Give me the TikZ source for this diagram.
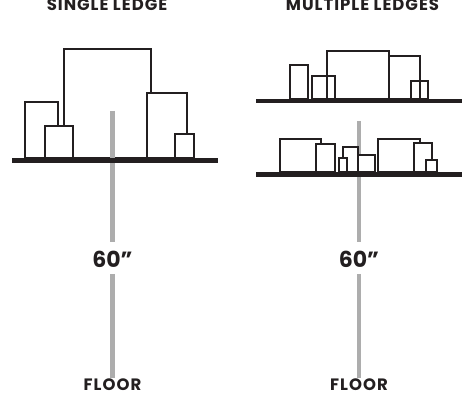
\documentclass[tikz,border=0pt]{standalone}
\usepackage{fontspec}
\setmainfont{Poppins}[LetterSpace=6]
\newfontfamily\numfont{Poppins}
\definecolor{ink}{HTML}{231F20}
\definecolor{pole}{HTML}{ADADAD}
\begin{document}
\begin{tikzpicture}[x=1pt,y=-1pt,
  boxw/.style={draw=ink,line width=1.6pt,fill=white},
  boxo/.style={draw=ink,line width=1.6pt},
  shelf/.style={fill=ink,draw=none},
  polebar/.style={draw=pole,line width=4.5pt},
  ttl/.style={font=\bfseries\fontsize{16.5}{17}\selectfont,text=ink,anchor=base,inner sep=0pt,text depth=0pt},
  num/.style={font=\numfont\bfseries\fontsize{22}{24}\selectfont,text=ink,inner sep=0pt}]
\useasboundingbox (0,0) rectangle (475,396);
% titles
\node[ttl] (t1) at (107,10.5) {SINGLE LEDGE};
\node[ttl] (t2) at (362.5,10.5) {MULTIPLE LEDGES};
% ---------- left: single ledge ----------
\coordinate (lp1) at (112.5,111);
\coordinate (lp2) at (112.5,242);
\coordinate (lp3) at (112.5,274);
\coordinate (lp4) at (112.5,378);
\draw[boxw] (64,49) rectangle (151,158);
\draw[boxw] (25,102) rectangle (58,158);
\draw[boxw] (147,93) rectangle (187,158);
\draw[boxw] (45,126) rectangle (73,158);
\draw[boxw] (175,134) rectangle (194,158);
\draw[polebar] (lp1) -- (lp2);
\draw[polebar] (lp3) -- (lp4);
\fill[shelf] (12,158) rectangle (218,163);
\node[num] (n1) at (112.5,259) {60”};
\node[ttl] (f1) at (112.5,391) {FLOOR};
% ---------- right: multiple ledges ----------
\coordinate (rp1) at (359,121);
\coordinate (rp2) at (359,242);
\coordinate (rp3) at (359,274);
\coordinate (rp4) at (359,378);
\draw[polebar] (rp1) -- (rp2);
\draw[polebar] (rp3) -- (rp4);
% upper shelf
\draw[boxo] (290,65) rectangle (308,99);
\draw[boxo] (312,76) rectangle (335,99);
\draw[boxo] (327,51) rectangle (389,99);
\draw[boxo] (389,56) rectangle (420,99);
\draw[boxo] (411,81) rectangle (428,99);
\fill[shelf] (256,99) rectangle (462,103.5);
% lower shelf
\draw[boxw] (280,139) rectangle (321,172);
\draw[boxw] (316,144) rectangle (335,172);
\draw[boxw] (343,147) rectangle (358,172);
\draw[boxw] (339,158) rectangle (347,172);
\draw[boxw] (358.5,155) rectangle (375,172);
\draw[boxw] (378,139) rectangle (420,172);
\draw[boxw] (414,143) rectangle (432,172);
\draw[boxw] (426,160) rectangle (437,172);
\fill[shelf] (256,172) rectangle (462,177);
\node[num] (n2) at (359,259) {60”};
\node[ttl] (f2) at (359,391) {FLOOR};
\end{tikzpicture}
\end{document}
